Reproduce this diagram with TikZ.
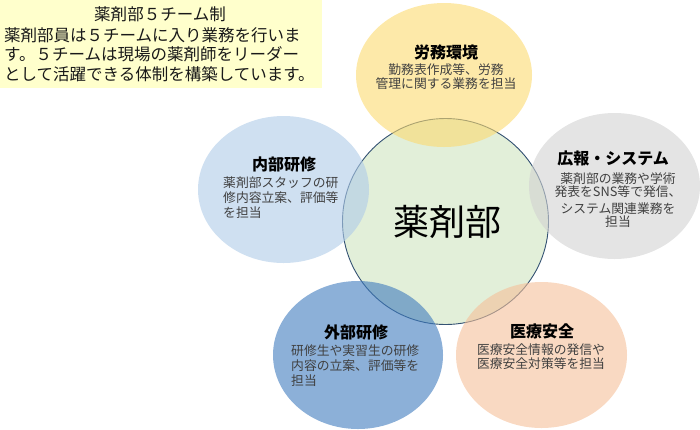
\documentclass[tikz,border=0pt]{standalone}
\usepackage{fontspec}
\setmainfont{Noto Sans CJK JP}
\definecolor{boxbg}{RGB}{255,255,204}
\definecolor{cgreen}{RGB}{226,239,217}
\definecolor{cline}{RGB}{52,82,115}
\definecolor{eyellow}{RGB}{252,218,112}
\definecolor{egray}{RGB}{210,210,210}
\definecolor{elblue}{RGB}{175,203,232}
\definecolor{edblue}{RGB}{63,123,190}
\definecolor{epeach}{RGB}{245,192,153}
\definecolor{bodytxt}{RGB}{64,64,64}
\tikzset{
  petal/.style={fill opacity=0.6, draw=none},
  ttl/.style={inner sep=0pt, font=\fontsize{16}{18}\selectfont\bfseries, text=black},
  bodyc/.style={inner sep=0pt, align=center, text=bodytxt, font=\fontsize{12.8}{14}\selectfont},
  bodyl/.style={inner sep=0pt, align=left, anchor=west, text=bodytxt, font=\fontsize{12.8}{15}\selectfont},
  note/.style={inner sep=0pt, text=black!90, font=\fontsize{16.5}{19.5}\selectfont}
}
\begin{document}
\begin{tikzpicture}[x=1pt,y=-1pt]
\useasboundingbox (0,0) rectangle (700,429);
% note box
\fill[boxbg] (0,0) rectangle (322,88);
\node[note] (notet) at (160,14) {薬剤部５チーム制};
\node[note, align=left, anchor=west] (noteb) at (4,54.5) {薬剤部員は５チームに入り業務を行いま\\す。５チームは現場の薬剤師をリーダー\\として活躍できる体制を構築しています。};
% center circle
\fill[cgreen] (445.5,221.5) circle (103pt);
\draw[cline, line width=0.9pt] (445.5,221.5) circle (103pt);
% petals
\fill[petal, eyellow] (444,75) ellipse (88pt and 72pt);
\fill[petal, egray] (614.5,186) ellipse (85.5pt and 73pt);
\fill[petal, elblue] (283.5,189.5) ellipse (85.5pt and 73.5pt);
\fill[petal, edblue] (358,355) ellipse (85pt and 74pt);
\fill[petal, epeach] (541.5,355) ellipse (85.5pt and 73pt);
% center text
\node[inner sep=0pt, font=\fontsize{36}{40}\selectfont] (center) at (447,222) {薬剤部};
% yellow
\node[ttl] (t1) at (446,52) {労務環境};
\node[bodyc] (b1) at (446,77) {勤務表作成等、労務\\管理に関する業務を担当};
% gray
\node[ttl] (t2) at (613,158) {広報・システム};
\node[bodyc, font=\fontsize{12.8}{13.5}\selectfont] (b2) at (618,200) {薬剤部の業務や学術\\発表をSNS等で発信、\\[3pt]システム関連業務を\\担当};
% light blue
\node[ttl] (t3) at (284,164) {内部研修};
\node[bodyl] (b3) at (223,198) {薬剤部スタッフの研\\修内容立案、評価等\\を担当};
% dark blue
\node[ttl] (t4) at (356,332) {外部研修};
\node[bodyl] (b4) at (291,366) {研修生や実習生の研修\\内容の立案、評価等を\\担当};
% peach
\node[ttl] (t5) at (542,331) {医療安全};
\node[bodyc] (b5) at (541,357) {医療安全情報の発信や\\医療安全対策等を担当};
\end{tikzpicture}
\end{document}
